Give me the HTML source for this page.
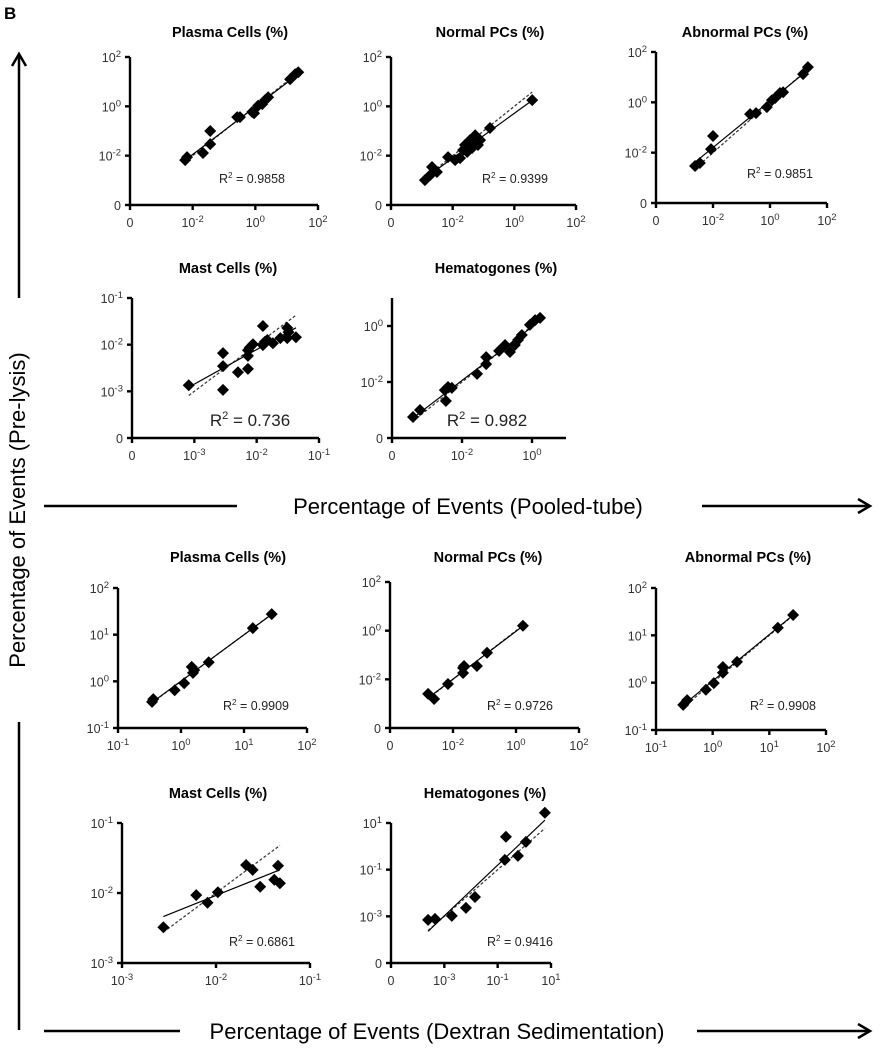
<!DOCTYPE html>
<html><head><meta charset="utf-8"><style>
html,body{margin:0;padding:0;background:#fff}
svg{display:block;font-family:"Liberation Sans",sans-serif}
.tl{font-weight:bold;font-size:14.5px}
.tk{font-size:12.5px;fill:#333}
</style></head><body>
<svg id="fig" width="880" height="1050" viewBox="0 0 880 1050">
<text x="4" y="19" font-weight="bold" font-size="17">B</text>
<g stroke="#000" stroke-width="2.5" fill="none">
<line x1="19" y1="298" x2="19" y2="56"/><polyline points="12,66 19,54 26,66"/>
<line x1="19" y1="722" x2="19" y2="1030"/>
</g>
<text transform="translate(25,510) rotate(-90)" text-anchor="middle" font-size="22">Percentage of Events (Pre-lysis)</text>
<g stroke="#000" stroke-width="2.5" fill="none">
<line x1="44" y1="506" x2="237" y2="506"/><line x1="702" y1="506" x2="868" y2="506"/><polyline points="858,499 870,506 858,513"/>
</g>
<text x="468" y="514" text-anchor="middle" font-size="22">Percentage of Events (Pooled-tube)</text>
<g stroke="#000" stroke-width="2.5" fill="none">
<line x1="44" y1="1031" x2="180" y2="1031"/><line x1="697" y1="1031" x2="868" y2="1031"/><polyline points="858,1024 870,1031 858,1038"/>
</g>
<text x="437" y="1039" text-anchor="middle" font-size="22">Percentage of Events (Dextran Sedimentation)</text>
</svg>
<script>
// ---- data (log10 values) ----
const p1x=[-2.24,-2.18,-1.67,-1.44,-1.44,-0.58,-0.49,-0.1,-0.04,0.09,0.22,0.31,0.41,1.11,1.27,1.37];
const p1y=[-2.18,-2.06,-1.89,-1.0,-1.53,-0.44,-0.44,-0.23,-0.28,0.03,0.09,0.25,0.37,1.1,1.3,1.38];
const p2x=[-2.9,-2.73,-2.67,-2.51,-2.15,-1.92,-1.76,-1.66,-1.6,-1.53,-1.44,-1.37,-1.27,-1.18,-1.11,-0.79,0.58];
const p2y=[-2.99,-2.79,-2.46,-2.66,-2.06,-2.18,-2.1,-1.77,-1.57,-1.85,-1.37,-1.69,-1.17,-1.57,-1.37,-0.88,0.25];
const p3x=[-2.63,-2.46,-2.07,-2.0,-0.7,-0.49,-0.11,0.07,0.18,0.35,0.46,1.16,1.33];
const p3y=[-2.53,-2.41,-1.86,-1.34,-0.47,-0.43,-0.19,0.09,0.17,0.37,0.4,1.12,1.4];
const p4x=[-3.09,-2.54,-2.54,-2.54,-2.3,-2.14,-2.14,-2.14,-2.11,-2.06,-1.9,-1.9,-1.87,-1.83,-1.74,-1.62,-1.51,-1.51,-1.49,-1.37];
const p4y=[-2.87,-2.97,-2.46,-2.18,-2.59,-2.52,-2.24,-2.12,-2.06,-1.99,-2.01,-1.6,-1.94,-1.9,-1.97,-1.86,-1.86,-1.64,-1.73,-1.84];
const p5x=[-3.4,-3.2,-2.46,-2.49,-2.4,-2.29,-1.57,-1.31,-1.31,-0.94,-0.77,-0.63,-0.49,-0.4,-0.29,-0.06,0.09,0.23];
const p5y=[-3.25,-3.0,-2.68,-2.29,-2.18,-2.21,-1.71,-1.36,-1.11,-0.89,-0.68,-0.93,-0.68,-0.5,-0.32,0.04,0.21,0.29];
const p6x=[-0.46,-0.44,-0.1,0.05,0.17,0.19,0.21,0.44,1.14,1.44];
const p6y=[-0.44,-0.38,-0.19,-0.04,0.31,0.18,0.24,0.41,1.14,1.44];
const p7x=[-2.79,-2.6,-2.16,-1.68,-1.65,-1.68,-1.24,-0.92,0.22];
const p7y=[-2.6,-2.81,-2.19,-1.74,-1.45,-1.53,-1.45,-0.91,0.2];
const p8x=[-0.52,-0.45,-0.12,0.02,0.18,0.18,0.43,1.15,1.42];
const p8y=[-0.47,-0.37,-0.15,-0.01,0.33,0.21,0.44,1.16,1.43];
const p9x=[-2.56,-2.21,-2.09,-1.98,-1.68,-1.61,-1.53,-1.38,-1.34,-1.32];
const p9y=[-2.49,-2.03,-2.14,-1.99,-1.6,-1.67,-1.91,-1.81,-1.61,-1.86];
const p10x=[-3.61,-3.35,-2.72,-2.19,-1.85,-0.73,-0.69,-0.24,0.06,0.77];
const p10y=[-3.15,-3.11,-2.98,-2.64,-2.17,-0.58,0.41,-0.41,0.19,1.44];
// tick labels ("zero" prints 0, otherwise an exponent of 10) and their log values
const titles=["Plasma Cells (%)","Normal PCs (%)","Abnormal PCs (%)","Mast Cells (%)","Hematogones (%)","Plasma Cells (%)","Normal PCs (%)","Abnormal PCs (%)","Mast Cells (%)","Hematogones (%)"];
const r2=["0.9858","0.9399","0.9851","0.736","0.982","0.9909","0.9726","0.9908","0.6861","0.9416"];
const xTickLabels=[["zero","-2","0","2"],["zero","-2","0","2"],["zero","-2","0","2"],["zero","-3","-2","-1"],["zero","-2","0"],["-1","0","1","2"],["zero","-2","0","2"],["-1","0","1","2"],["-3","-2","-1"],["zero","-3","-1","1"]];
const xTickVals=[[-4,-2,0,2],[-4,-2,0,2],[-4,-2,0,2],[-4,-3,-2,-1],[-4,-2,0],[-1,0,1,2],[-4,-2,0,2],[-1,0,1,2],[-3,-2,-1],[-5,-3,-1,1]];
const yTickLabels=[["zero","-2","0","2"],["zero","-2","0","2"],["zero","-2","0","2"],["zero","-3","-2","-1"],["zero","-2","0"],["-1","0","1","2"],["zero","-2","0","2"],["-1","0","1","2"],["-3","-2","-1"],["zero","-3","-1","1"]];
const yTickVals=[[-4,-2,0,2],[-4,-2,0,2],[-4,-2,0,2],[-4,-3,-2,-1],[-4,-2,0],[-1,0,1,2],[-4,-2,0,2],[-1,0,1,2],[-3,-2,-1],[-5,-3,-1,1]];
const xsAll=[p1x,p2x,p3x,p4x,p5x,p6x,p7x,p8x,p9x,p10x];
const ysAll=[p1y,p2y,p3y,p4y,p5y,p6y,p7y,p8y,p9y,p10y];
// ---- layout (pixels) ----
const geo=[
 {xl:130,xr:318,yb:205,yt:57,ax:318,ay:57,tx:230,ty:37,rx:252,ry:183,big:false},
 {xl:391,xr:576,yb:205,yt:57,ax:576,ay:57,tx:490,ty:37,rx:515,ry:183,big:false},
 {xl:656,xr:827,yb:203,yt:52,ax:827,ay:52,tx:745,ty:37,rx:780,ry:178,big:false},
 {xl:132,xr:319,yb:438,yt:298,ax:319,ay:298,tx:228,ty:273,rx:250,ry:426,big:true},
 {xl:392,xr:532,yb:438,yt:326,ax:566,ay:298,tx:496,ty:273,rx:487,ry:426,big:true},
 {xl:118,xr:307,yb:728,yt:588,ax:307,ay:588,tx:228,ty:562,rx:256,ry:710,big:false},
 {xl:390,xr:579,yb:728,yt:582,ax:579,ay:582,tx:488,ty:562,rx:520,ry:710,big:false},
 {xl:656,xr:826,yb:730,yt:588,ax:826,ay:588,tx:748,ty:562,rx:783,ry:710,big:false},
 {xl:122,xr:310,yb:963,yt:823,ax:310,ay:823,tx:218,ty:798,rx:262,ry:946,big:false},
 {xl:391,xr:551,yb:963,yt:823,ax:551,ay:823,tx:485,ty:798,rx:520,ry:946,big:false}];
const NS="http://www.w3.org/2000/svg";
const svg=document.getElementById('fig');
function mk(tag,attrs,parent){const e=document.createElementNS(NS,tag);for(const k in attrs)e.setAttribute(k,attrs[k]);(parent||svg).appendChild(e);return e;}
function label(parent,x,y,lab,anchor){
 const t=mk('text',{x:x,y:y,'text-anchor':anchor,class:'tk'},parent);
 if(lab==="zero"){t.textContent="0";}
 else{const a=document.createElementNS(NS,'tspan');a.textContent="10";t.appendChild(a);
  const b=document.createElementNS(NS,'tspan');b.setAttribute('dy','-5');b.setAttribute('font-size','9.5');b.textContent=lab;t.appendChild(b);}
 return t;}
for(let i=0;i<10;i++){
 const g=geo[i],xv=xTickVals[i],yv=yTickVals[i],xs=xsAll[i],ys=ysAll[i];
 const xmin=xv[0],xmax=xv[xv.length-1],ymin=yv[0],ymax=yv[yv.length-1];
 const sx=v=>g.xl+(v-xmin)/(xmax-xmin)*(g.xr-g.xl);
 const sy=v=>g.yb-(v-ymin)/(ymax-ymin)*(g.yb-g.yt);
 const P=mk('g',{});
 
 
 const tt=mk('text',{x:g.tx,y:g.ty,'text-anchor':'middle',class:'tl'},P);tt.textContent=titles[i];
 
 
 const ax=mk('g',{stroke:'#000','stroke-width':2.4,fill:'none'},P);
 
 
 mk('line',{x1:g.xl,y1:g.ay,x2:g.xl,y2:g.yb},ax);
 mk('line',{x1:g.xl,y1:g.yb,x2:g.ax,y2:g.yb},ax);
 xv.forEach((v,j)=>{const x=sx(v);mk('line',{x1:x,y1:g.yb,x2:x,y2:g.yb+5},ax);
  const t=label(P,x,g.yb+22,xTickLabels[i][j],'middle');
  
  });
 yv.forEach((v,j)=>{const y=sy(v);mk('line',{x1:g.xl-5,y1:y,x2:g.xl,y2:y},ax);
  const t=label(P,g.xl-9,y+5,yTickLabels[i][j],'end');
  
  });
 const n=xs.length;let mx=0,my=0;for(let k=0;k<n;k++){mx+=xs[k];my+=ys[k];}mx/=n;my/=n;
 let sxy=0,sxx=0;for(let k=0;k<n;k++){sxy+=(xs[k]-mx)*(ys[k]-my);sxx+=(xs[k]-mx)**2;}
 const b=sxy/sxx,a=my-b*mx;const x0=Math.min(...xs),x1=Math.max(...xs);
 const id=mk('line',{x1:sx(x0),y1:sy(x0),x2:sx(x1),y2:sy(x1),stroke:'#333','stroke-width':1.2,'stroke-dasharray':'3,2'},P);
 
 
 const fl=mk('line',{x1:sx(x0),y1:sy(a+b*x0),x2:sx(x1),y2:sy(a+b*x1),stroke:'#000','stroke-width':1.2},P);
 
 
 for(let k=0;k<n;k++){const cx=sx(xs[k]),cy=sy(ys[k]);
  const d=mk('polygon',{points:`${cx},${cy-6} ${cx+6},${cy} ${cx},${cy+6} ${cx-6},${cy}`,fill:'#000'},P);
  
  }
 const fs=g.big?17:12.5;
 const rt=mk('text',{x:g.rx,y:g.ry,'text-anchor':'middle','font-size':fs,fill:'#222'},P);
 
 
 const s1=document.createElementNS(NS,'tspan');s1.textContent='R';rt.appendChild(s1);
 const s2=document.createElementNS(NS,'tspan');s2.setAttribute('dy',-fs*0.4);s2.setAttribute('font-size',fs*0.65);s2.textContent='2';rt.appendChild(s2);
 const s3=document.createElementNS(NS,'tspan');s3.setAttribute('dy',fs*0.4);s3.textContent=' = '+r2[i];rt.appendChild(s3);
}
</script>
</body></html>
